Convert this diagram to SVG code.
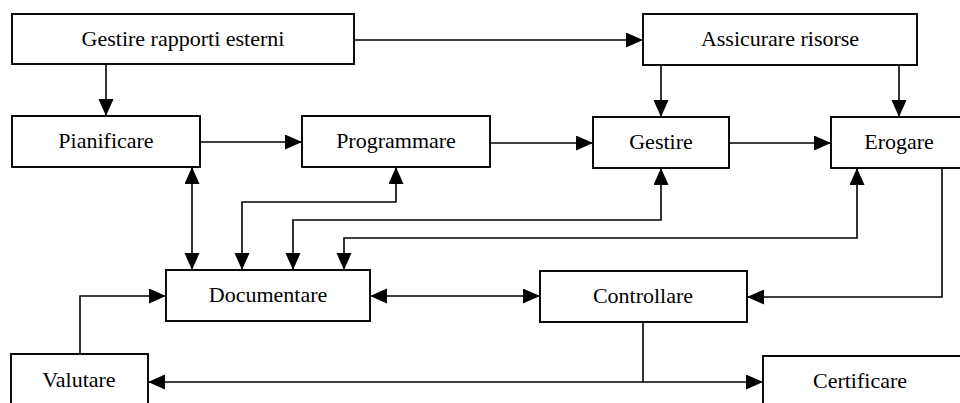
<svg xmlns="http://www.w3.org/2000/svg" width="960" height="403" viewBox="0 0 960 403">
<style>
.box{fill:#fff;stroke:#000;stroke-width:1.9}
.lbl{font-family:"Liberation Serif","Times New Roman",serif;font-size:22px;fill:#000;text-anchor:middle}
.con{fill:none;stroke:#000;stroke-width:1.6}
</style>
<defs>
<marker id="ah" markerUnits="userSpaceOnUse" markerWidth="19" markerHeight="17" refX="17" refY="7.5" orient="auto">
<path d="M0,0 L17,7.5 L0,15 z" fill="#000"/>
</marker>
<marker id="as" markerUnits="userSpaceOnUse" markerWidth="19" markerHeight="17" refX="17" refY="7.5" orient="auto-start-reverse">
<path d="M0,0 L17,7.5 L0,15 z" fill="#000"/>
</marker>
</defs>
<rect width="960" height="403" fill="#fff"/>
<g id="connectors">
<path class="con" d="M106,64 V116" marker-end="url(#ah)"/>
<path class="con" d="M354,40 H643" marker-end="url(#ah)"/>
<path class="con" d="M661,65 V117" marker-end="url(#ah)"/>
<path class="con" d="M899,65 V117" marker-end="url(#ah)"/>
<path class="con" d="M200,142 H302" marker-end="url(#ah)"/>
<path class="con" d="M490,143 H593" marker-end="url(#ah)"/>
<path class="con" d="M729,143 H831" marker-end="url(#ah)"/>
<path class="con" d="M192,167 V270" marker-start="url(#as)" marker-end="url(#as)"/>
<path class="con" d="M396,167 V202 H242 V270" marker-start="url(#as)" marker-end="url(#as)"/>
<path class="con" d="M661,168 V220 H293 V270" marker-start="url(#as)" marker-end="url(#as)"/>
<path class="con" d="M857,168 V238 H344 V270" marker-start="url(#as)" marker-end="url(#as)"/>
<path class="con" d="M942,168 V297 H747" marker-end="url(#ah)"/>
<path class="con" d="M80,354 V296 H166" marker-end="url(#ah)"/>
<path class="con" d="M370,296 H540" marker-start="url(#as)" marker-end="url(#as)"/>
<path class="con" d="M643,322 V382 H148" marker-end="url(#ah)"/>
<path class="con" d="M643,382 H763" marker-end="url(#ah)"/>
</g>
<g id="gestire-rapporti"><rect class="box" x="12" y="14" width="342" height="50"/><text class="lbl" x="183" y="46">Gestire rapporti esterni</text></g>
<g id="assicurare"><rect class="box" x="643" y="14" width="274" height="51"/><text class="lbl" x="780" y="46">Assicurare risorse</text></g>
<g id="pianificare"><rect class="box" x="12" y="116" width="188" height="51"/><text class="lbl" x="106" y="148">Pianificare</text></g>
<g id="programmare"><rect class="box" x="302" y="116" width="188" height="51"/><text class="lbl" x="396" y="148">Programmare</text></g>
<g id="gestire"><rect class="box" x="593" y="117" width="136" height="51"/><text class="lbl" x="661" y="149">Gestire</text></g>
<g id="erogare"><rect class="box" x="831" y="117" width="140" height="51"/><text class="lbl" x="899" y="149">Erogare</text></g>
<g id="documentare"><rect class="box" x="166" y="270" width="204" height="51"/><text class="lbl" x="268" y="302">Documentare</text></g>
<g id="controllare"><rect class="box" x="540" y="271" width="207" height="51"/><text class="lbl" x="643" y="303">Controllare</text></g>
<g id="valutare"><rect class="box" x="11" y="354" width="137" height="60"/><text class="lbl" x="79" y="387">Valutare</text></g>
<g id="certificare"><rect class="box" x="763" y="356" width="210" height="60"/><text class="lbl" x="860" y="388">Certificare</text></g>
</svg>
